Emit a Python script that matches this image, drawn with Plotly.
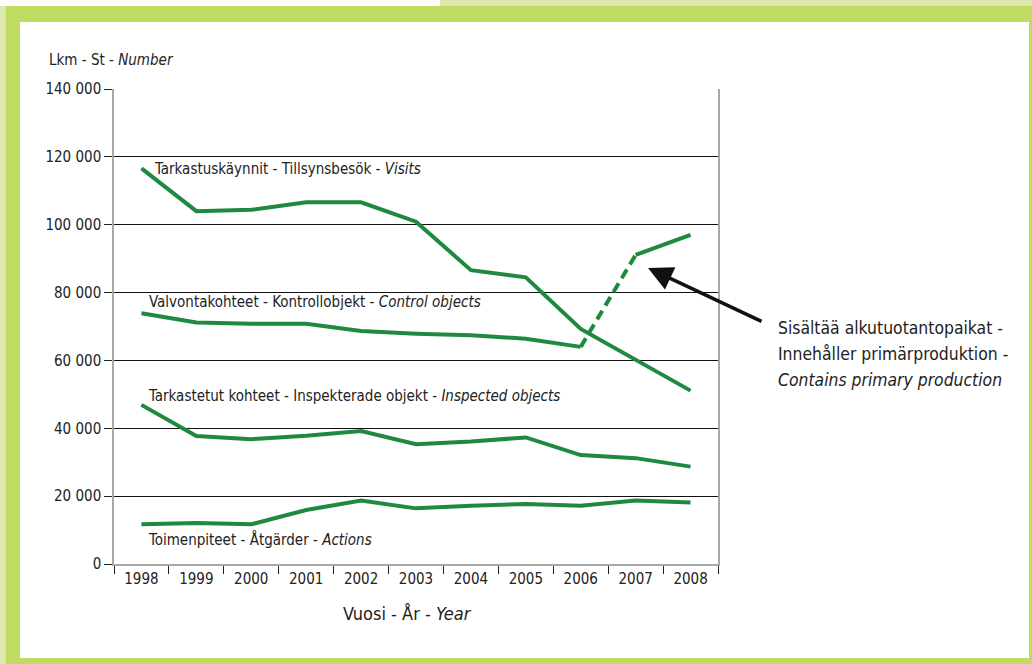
import plotly.graph_objects as go

years = ["1998", "1999", "2000", "2001", "2002", "2003", "2004", "2005", "2006", "2007", "2008"]
visits = [116600, 104000, 104400, 106600, 106600, 100900, 86600, 84500, 69300, 60300, 51100]
control = [73900, 71200, 70800, 70800, 68700, 67900, 67400, 66400, 64000, 91100, 97000]
inspected = [46900, 37700, 36800, 37800, 39200, 35300, 36100, 37300, 32100, 31200, 28700]
actions = [11700, 12100, 11700, 15900, 18700, 16400, 17200, 17700, 17200, 18700, 18100]

y_ticks = [0, 20000, 40000, 60000, 80000, 100000, 120000, 140000]
y_tick_labels = ["0", "20 000", "40 000", "60 000", "80 000", "100 000", "120 000", "140 000"]

series_labels = [
    "Tarkastuskäynnit - Tillsynsbesök - <i>Visits</i>",
    "Valvontakohteet - Kontrollobjekt - <i>Control objects</i>",
    "Tarkastetut kohteet - Inspekterade objekt - <i>Inspected objects</i>",
    "Toimenpiteet - Åtgärder - <i>Actions</i>",
]
note_lines = ["Sisältää alkutuotantopaikat -", "Innehåller primärproduktion -", "<i>Contains primary production</i>"]

GREEN = "#1f8a3f"
FONT = "Liberation Sans Narrow, DejaVu Sans Condensed, Arial Narrow, sans-serif"
W, H = 1032, 664
L, R, T, B = 114, 718, 89, 564

fig = go.Figure()
line = dict(color=GREEN, width=4)
fig.add_trace(go.Scatter(x=years, y=visits, mode="lines", line=line))
fig.add_trace(go.Scatter(x=years[:9], y=control[:9], mode="lines", line=line))
fig.add_trace(go.Scatter(x=years[8:10], y=control[8:10], mode="lines",
                         line=dict(color=GREEN, width=4, dash="10px,6px")))
fig.add_trace(go.Scatter(x=years[9:], y=control[9:], mode="lines", line=line))
fig.add_trace(go.Scatter(x=years, y=inspected, mode="lines", line=line))
fig.add_trace(go.Scatter(x=years, y=actions, mode="lines", line=line))


def px(x):
    return (x - L) / (R - L)


def py(y):
    return (B - y) / (B - T)


shapes = [
    dict(type="rect", xref="paper", yref="paper", x0=px(0), x1=px(W), y0=py(H), y1=py(0),
         fillcolor="#dde9ad", line_width=0, layer="below"),
    dict(type="rect", xref="paper", yref="paper", x0=px(0), x1=px(440), y0=py(6), y1=py(0),
         fillcolor="white", line_width=0, layer="below"),
    dict(type="rect", xref="paper", yref="paper", x0=px(6), x1=px(W), y0=py(H), y1=py(6),
         fillcolor="#bedb62", line_width=0, layer="below"),
    dict(type="rect", xref="paper", yref="paper", x0=px(20), x1=px(1029), y0=py(658), y1=py(22),
         fillcolor="white", line_width=0, layer="below"),
]

annotations = []
label_pos = [(152, 169), (147, 302), (146, 396), (146, 539)]
for text, (x, y) in zip(series_labels, label_pos):
    annotations.append(dict(text=text, xref="paper", yref="paper", x=px(x), y=py(y),
                            xanchor="left", yanchor="middle", showarrow=False,
                            font=dict(family=FONT, size=15, color="#222")))
for i, t in enumerate(note_lines):
    annotations.append(dict(text=t, xref="paper", yref="paper", x=px(776), y=py(328 + 26 * i),
                            xanchor="left", yanchor="middle", showarrow=False,
                            font=dict(family=FONT, size=17.4, color="#222")))
annotations.append(dict(text="Lkm - St - <i>Number</i>", xref="paper", yref="paper", x=px(47), y=py(60),
                        xanchor="left", yanchor="middle", showarrow=False,
                        font=dict(family=FONT, size=15, color="#222")))
annotations.append(dict(text="Vuosi - År - <i>Year</i>", xref="paper", yref="paper", x=px(407), y=py(613),
                        xanchor="center", yanchor="middle", showarrow=False,
                        font=dict(family=FONT, size=18, color="#222")))
# arrow
annotations.append(dict(text="", x=(648 - L) / ((R - L) / 11) - 0.5, y=(B - 268) / ((B - T) / 140000),
                        xref="x", yref="y", ax=115, ay=54, axref="pixel", ayref="pixel",
                        showarrow=True, arrowhead=2, arrowsize=1.4, arrowwidth=3.5, arrowcolor="#111",
                        standoff=0, startstandoff=0))

fig.update_layout(
    width=W, height=H,
    margin=dict(l=L, r=W - R, t=T, b=H - B),
    paper_bgcolor="white", plot_bgcolor="rgba(0,0,0,0)",
    showlegend=False,
    shapes=shapes, annotations=annotations,
    font=dict(family=FONT, size=15, color="#222"),
    xaxis=dict(type="category", range=[-0.5, 10.5], tickson="boundaries", ticks="outside",
               ticklen=8, tickcolor="#222", tickwidth=1, showgrid=False,
               showline=True, linecolor="#a8a8a8", linewidth=2,
               tickfont=dict(family=FONT, size=15, color="#222")),
    yaxis=dict(range=[0, 140000], tickvals=y_ticks, ticktext=y_tick_labels,
               ticks="outside", ticklen=8, tickcolor="#222", showgrid=True, gridcolor="#111",
               gridwidth=1, zeroline=False, showline=True, mirror=True, linecolor="#a8a8a8",
               linewidth=1.5, tickfont=dict(family=FONT, size=15, color="#222")),
)

fig.write_html("out.html", config={"displayModeBar": False},
               post_script="document.body.style.margin='0';document.body.style.padding='0';document.body.style.overflow='hidden';")
